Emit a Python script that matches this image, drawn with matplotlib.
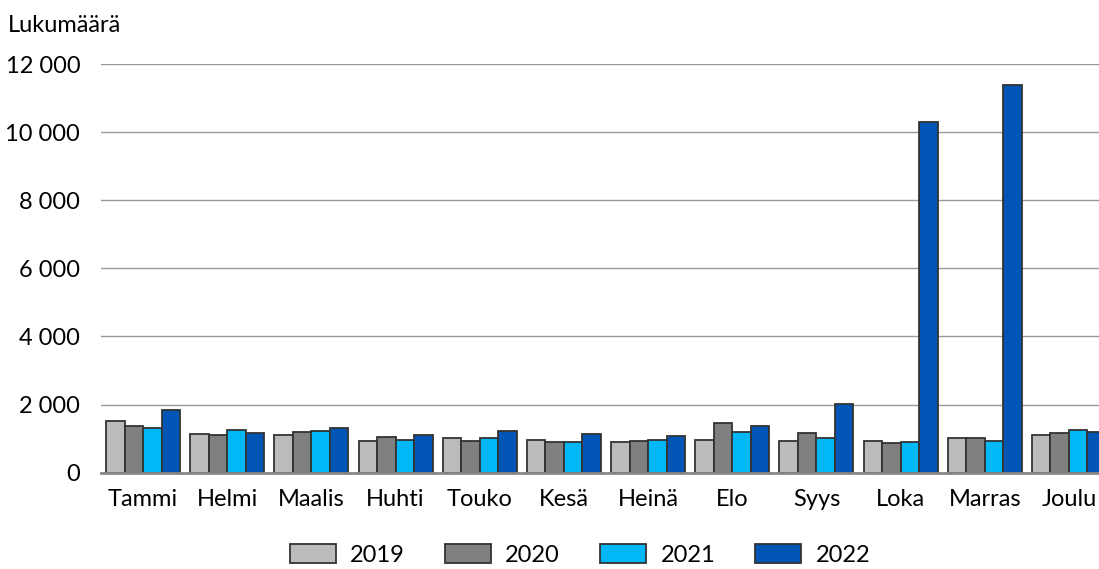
import numpy as np
import matplotlib.pyplot as plt
from matplotlib.ticker import FuncFormatter

plt.rcParams['font.family'] = ['Lato', 'DejaVu Sans']

months = ['Tammi', 'Helmi', 'Maalis', 'Huhti', 'Touko', 'Kesä',
          'Heinä', 'Elo', 'Syys', 'Loka', 'Marras', 'Joulu']
years = ['2019', '2020', '2021', '2022']

# monthly counts
v2019 = [1530, 1150, 1100, 920, 1020, 960, 900, 970, 920, 930, 1010, 1110]
v2020 = [1375, 1120, 1200, 1060, 930, 890, 930, 1450, 1160, 870, 1010, 1170]
v2021 = [1315, 1255, 1235, 950, 1020, 890, 960, 1195, 1030, 900, 920, 1265]
v2022 = [1835, 1175, 1305, 1100, 1235, 1130, 1080, 1375, 2010, 10290, 11380, 1195]

colors = ['#BBBBBB', '#808080', '#00B8F8', '#0055B5']
series = [v2019, v2020, v2021, v2022]

fig = plt.figure(figsize=(10.99, 5.69), dpi=100)
ax = fig.add_axes([101 / 1099, 1 - 472.7 / 569, 1010 / 1099, (472.7 - 64) / 569])

x = np.arange(len(months))
w = 0.22
for i, (vals, c, lab) in enumerate(zip(series, colors, years)):
    ax.bar(x + (i - 1.5) * w, vals, width=w, color=c, edgecolor='#333333',
           linewidth=1.3, label=lab, zorder=3)

ax.set_xlim(-0.5, 11.5)
ax.set_ylim(0, 12000)
ax.set_yticks(range(0, 12001, 2000))
ax.yaxis.set_major_formatter(FuncFormatter(lambda v, p: f'{int(v):,}'.replace(',', ' ')))
ax.set_xticks(x)
ax.set_xticklabels(months)
ax.tick_params(axis='both', length=0, labelsize=17)
ax.tick_params(axis='y', pad=15)
ax.tick_params(axis='x', pad=12)
ax.grid(axis='y', color='#999999', linewidth=1, zorder=0)
for s in ['top', 'right', 'left']:
    ax.spines[s].set_visible(False)
ax.spines['bottom'].set_color('#888888')
ax.spines['bottom'].set_linewidth(2)
ax.spines['bottom'].set_zorder(4)

fig.text(8 / 1099, 1 - 25 / 569, 'Lukumäärä', fontsize=17, va='center', ha='left')

fig.legend(loc='center', bbox_to_anchor=(580 / 1099, 1 - 555 / 569), ncol=4,
           frameon=False, fontsize=17, handlelength=1.95, handleheight=0.85,
           columnspacing=1.7, handletextpad=0.6)

fig.savefig('out.png', dpi=100)
